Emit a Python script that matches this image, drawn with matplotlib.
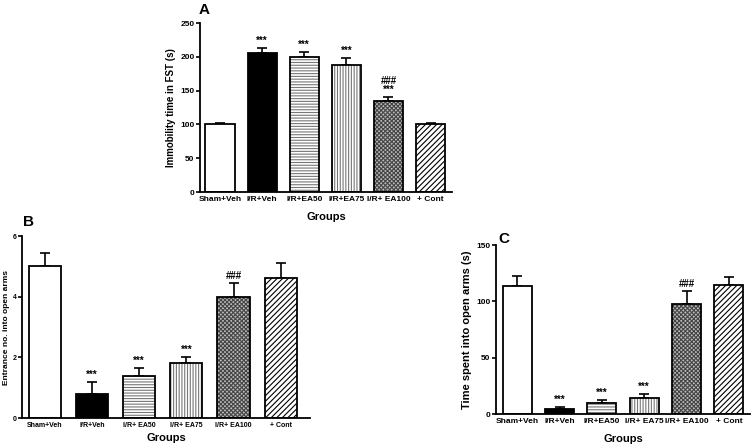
import numpy as np
import matplotlib
matplotlib.use("Agg")
import matplotlib.pyplot as plt

plt.rcParams['font.family'] = ['Liberation Sans', 'DejaVu Sans']
plt.rcParams['font.weight'] = 'bold'
plt.rcParams['hatch.linewidth'] = 0.8

# data
labels_a = ["Sham+Veh", "I/R+Veh", "I/R+EA50", "I/R+EA75", "I/R+ EA100", "+ Cont"]
fst_mean = [100, 206, 199, 188, 134, 100]
fst_err = [2, 7, 8, 10, 7, 2]
fst_marks = ["", "***", "***", "***", "###\n***", ""]

labels_b = ["Sham+Veh", "I/R+Veh", "I/R+ EA50", "I/R+ EA75", "I/R+ EA100", "+ Cont"]
entr_mean = [5.0, 0.8, 1.4, 1.8, 4.0, 4.6]
entr_err = [0.45, 0.4, 0.25, 0.2, 0.45, 0.5]
entr_marks = ["", "***", "***", "***", "###", ""]

labels_c = ["Sham+Veh", "I/R+Veh", "I/R+EA50", "I/R+ EA75", "I/R+ EA100", "+ Cont"]
time_mean = [114, 4, 10, 14, 98, 114.5]
time_err = [8.5, 2, 2.5, 3.8, 11, 7.5]
time_marks = ["", "***", "***", "***", "###", ""]

fills = ["white", "black", "white", "white", "#bbbbbb", "white"]
hatches = [None, None, "------", "||||||", "xxxxxxxx", "//////"]
hatch_cols = ["black", "black", "#777777", "#777777", "#444444", "black"]

W, H = 755, 448
fig = plt.figure(figsize=(W / 100, H / 100), dpi=100)


def rect(l, t, r, b):
    return [l / W, 1 - b / H, (r - l) / W, (b - t) / H]


def panel(box, means, errs, marks, labels, ymax, yticks, ylabel, xlim, width,
          ylab_size, tick_size, ylab_pad, xlab_pad):
    ax = fig.add_axes(box)
    x = np.arange(len(means))
    for i in range(len(means)):
        ax.bar(x[i], means[i], width=width, color=fills[i], edgecolor=hatch_cols[i],
               hatch=hatches[i], linewidth=0, zorder=2)
        ax.bar(x[i], means[i], width=width, color="none", edgecolor="black",
               linewidth=1.3, zorder=3)
    ax.errorbar(x, means, yerr=[np.zeros(len(errs)), errs], fmt="none",
                ecolor="black", elinewidth=1.2, capsize=3.5, capthick=1.2, zorder=1)
    for i, m in enumerate(marks):
        if m:
            ax.text(x[i], means[i] + errs[i] + ymax * 0.012, m, ha="center", va="bottom",
                    fontsize=7, fontweight="bold", linespacing=0.8)
    ax.set_xlim(*xlim)
    ax.set_ylim(0, ymax)
    ax.set_yticks(yticks)
    ax.set_xticks(x)
    ax.set_xticklabels(labels, fontsize=tick_size, fontweight="bold")
    ax.tick_params(axis="x", length=0, pad=3)
    ax.tick_params(axis="y", length=3, width=1.2, labelsize=tick_size, pad=1)
    for s in ["top", "right"]:
        ax.spines[s].set_visible(False)
    for s in ["left", "bottom"]:
        ax.spines[s].set_linewidth(1.3)
    ax.set_ylabel(ylabel, fontsize=ylab_size, fontweight="bold", labelpad=ylab_pad)
    ax.set_xlabel("Groups", fontsize=8, fontweight="bold", labelpad=xlab_pad)
    return ax


ax_a = panel(rect(200, 23, 452, 192), fst_mean, fst_err, fst_marks, labels_a, 250,
             range(0, 251, 50), "Immobility time in FST (s)", (-0.475, 5.51), 0.69,
             7, 6, 3, 6)
ax_b = panel(rect(22, 236, 310, 418), entr_mean, entr_err, entr_marks, labels_b, 6,
             range(0, 7, 2), "Entrance no. into open arms", (-0.48, 5.62), 0.68,
             6, 5, 2, 3)
ax_c = panel(rect(496, 245, 750, 414), time_mean, time_err, time_marks, labels_c, 150,
             range(0, 151, 50), "Time spent into open arms (s)", (-0.5, 5.5), 0.69,
             8, 6, 3, 6)

fig.text(204 / W, 1 - 10 / H, "A", fontsize=11, fontweight="bold", ha="center", va="center")
fig.text(28 / W, 1 - 222 / H, "B", fontsize=11, fontweight="bold", ha="center", va="center")
fig.text(504 / W, 1 - 239 / H, "C", fontsize=11, fontweight="bold", ha="center", va="center")

fig.savefig("out.png", dpi=100)
